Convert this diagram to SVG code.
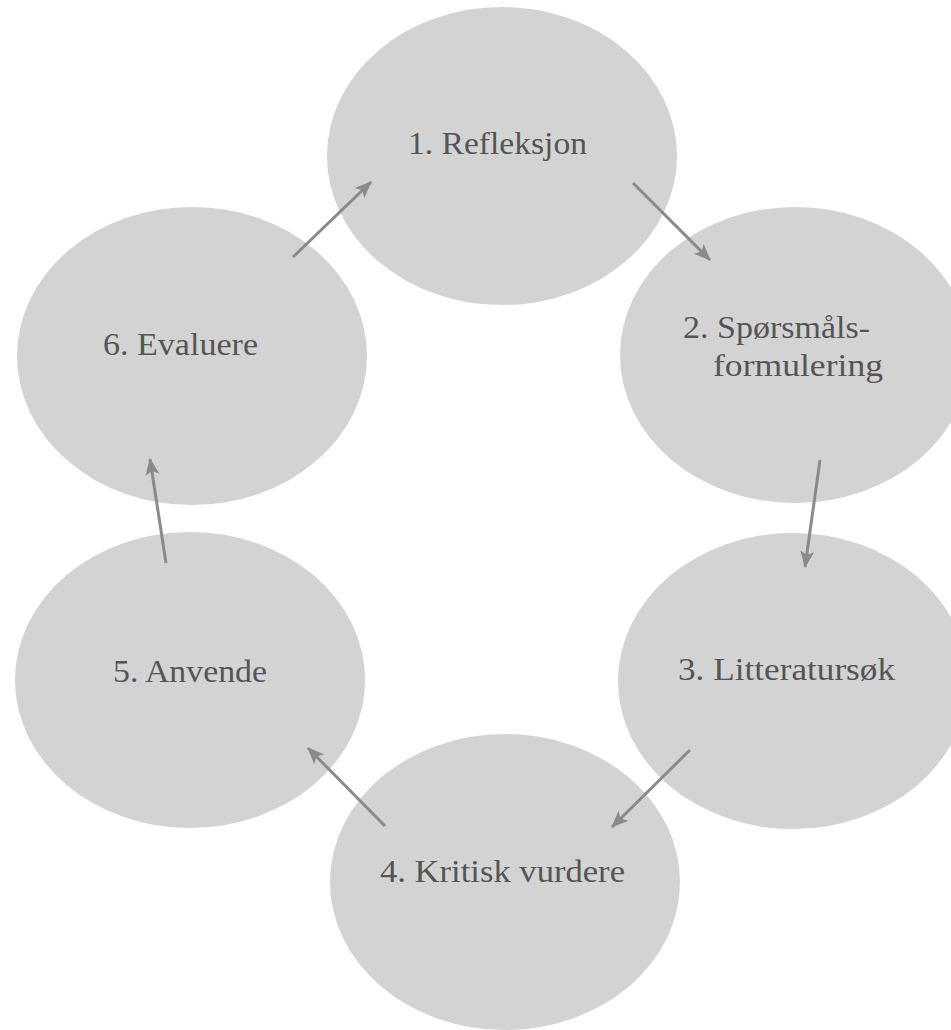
<svg xmlns="http://www.w3.org/2000/svg" width="951" height="1030" viewBox="0 0 951 1030">
<style>
.node{fill:#d3d3d3;}
.lbl{font-family:"Liberation Serif","Times New Roman",serif;font-size:31px;fill:#555555;}
.conn{stroke:#8a8a8a;stroke-width:3;fill:none;marker-end:url(#ah);}
</style>
<defs>
<marker id="ah" markerUnits="userSpaceOnUse" markerWidth="18" markerHeight="16" viewBox="0 0 18 16" refX="16" refY="8" orient="auto">
<path d="M0,1 L17,8 L0,15 L4,8 Z" fill="#8a8a8a"/>
</marker>
</defs>
<rect width="951" height="1030" fill="#ffffff"/>
<g id="node1"><ellipse class="node" cx="502" cy="156" rx="175" ry="149"/><text class="lbl" x="408" y="154" textLength="179" lengthAdjust="spacingAndGlyphs">1. Refleksjon</text></g>
<g id="node2"><ellipse class="node" cx="795" cy="355" rx="175" ry="148"/><text class="lbl" x="683" y="338" textLength="187" lengthAdjust="spacingAndGlyphs">2. Spørsmåls-</text><text class="lbl" x="713" y="376" textLength="170" lengthAdjust="spacingAndGlyphs">formulering</text></g>
<g id="node3"><ellipse class="node" cx="793" cy="681" rx="175" ry="148"/><text class="lbl" x="678" y="680" textLength="217" lengthAdjust="spacingAndGlyphs">3. Litteratursøk</text></g>
<g id="node4"><ellipse class="node" cx="505" cy="882" rx="175" ry="148"/><text class="lbl" x="380" y="882" textLength="245" lengthAdjust="spacingAndGlyphs">4. Kritisk vurdere</text></g>
<g id="node5"><ellipse class="node" cx="190" cy="680" rx="175" ry="148"/><text class="lbl" x="113" y="682" textLength="154" lengthAdjust="spacingAndGlyphs">5. Anvende</text></g>
<g id="node6"><ellipse class="node" cx="192" cy="356" rx="175" ry="149"/><text class="lbl" x="103" y="355" textLength="155" lengthAdjust="spacingAndGlyphs">6. Evaluere</text></g>
<g id="connectors">
<line class="conn" x1="293" y1="257" x2="371" y2="182"/>
<line class="conn" x1="633" y1="183" x2="710" y2="260"/>
<line class="conn" x1="820" y1="460" x2="805" y2="567"/>
<line class="conn" x1="690" y1="750" x2="612" y2="827"/>
<line class="conn" x1="385" y1="826" x2="308" y2="748"/>
<line class="conn" x1="166" y1="563" x2="150" y2="459"/>
</g>
</svg>
